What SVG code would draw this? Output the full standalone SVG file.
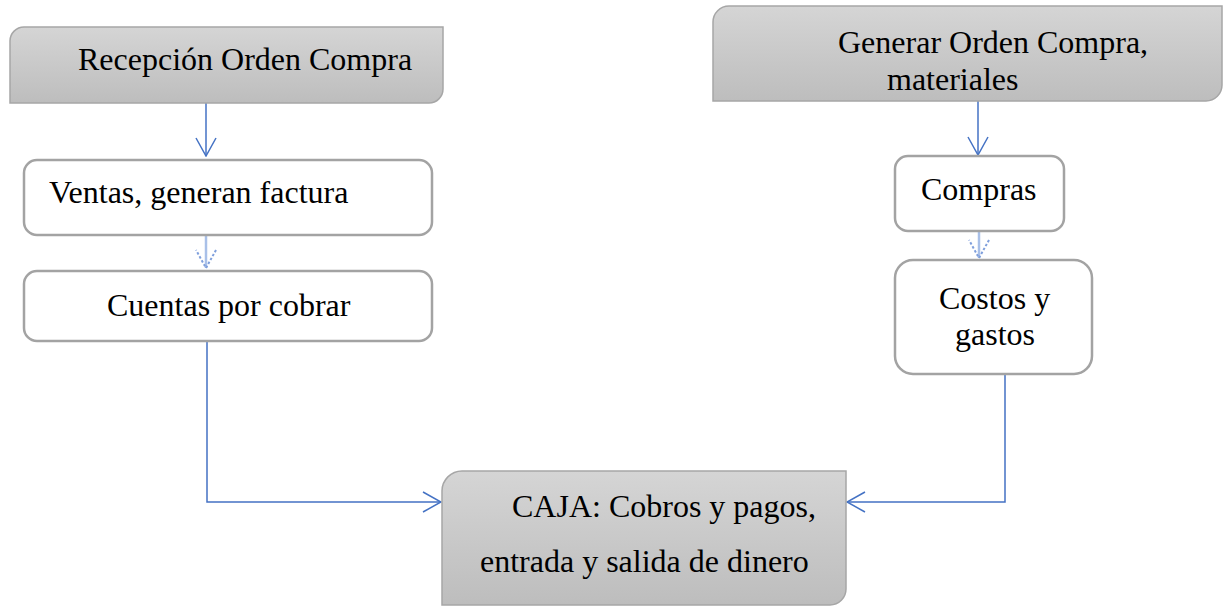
<svg xmlns="http://www.w3.org/2000/svg" width="1226" height="606" viewBox="0 0 1226 606">
<defs>
<linearGradient id="gray" x1="0" y1="0" x2="0" y2="1">
<stop offset="0" stop-color="#d5d5d5"/>
<stop offset="1" stop-color="#bdbdbd"/>
</linearGradient>
<marker id="arr" viewBox="0 0 20 22" refX="19" refY="11" markerWidth="20" markerHeight="22" markerUnits="userSpaceOnUse" orient="auto">
<path d="M1,1 L19,11 L1,21" fill="none" stroke="#4472c4" stroke-width="1.5"/>
</marker>
<marker id="arrf" viewBox="0 0 20 22" refX="19" refY="11" markerWidth="20" markerHeight="22" markerUnits="userSpaceOnUse" orient="auto">
<path d="M1,1 L19,11 L1,21" fill="none" stroke="#7f9fdc" stroke-width="2" stroke-dasharray="2.5,2"/>
</marker>
</defs>
<style>
.g{fill:url(#gray);stroke:#a6a6a6;stroke-width:1.5}
.w{fill:#ffffff;stroke:#a3a3a3;stroke-width:2.5}
.t{font-family:"Liberation Serif","Times New Roman",serif;font-size:32px;fill:#000}
.c{fill:none;stroke:#4472c4;stroke-width:1.5}
.cf{fill:none;stroke:#a9c0e8;stroke-width:2.5}
</style>
<rect width="1226" height="606" fill="#ffffff"/>
<g id="connectors">
<path class="c" d="M206,103 V156" marker-end="url(#arr)"/>
<path class="c" d="M978,101 V155" marker-end="url(#arr)"/>
<path class="cf" d="M206,235 V268" marker-end="url(#arrf)"/>
<path class="cf" d="M979,231 V258" marker-end="url(#arrf)"/>
<path class="c" d="M207,341 V502 H441" marker-end="url(#arr)"/>
<path class="c" d="M1005,374 V502 H847" marker-end="url(#arr)"/>
</g>
<g id="recepcion">
<path class="g" d="M24,27 H443 V89 A14,14 0 0 1 429,103 H10 V41 A14,14 0 0 1 24,27 Z"/>
<text class="t" x="78" y="70">Recepción Orden Compra</text>
</g>
<g id="generar">
<path class="g" d="M729,6 H1222 V85 A16,16 0 0 1 1206,101 H713 V22 A16,16 0 0 1 729,6 Z"/>
<text class="t" x="838" y="53">Generar Orden Compra,</text>
<text class="t" x="887" y="90">materiales</text>
</g>
<g id="ventas">
<rect class="w" x="24" y="160" width="408" height="75" rx="13"/>
<text class="t" x="49" y="203">Ventas, generan factura</text>
</g>
<g id="cuentas">
<rect class="w" x="24" y="271" width="408" height="70" rx="13"/>
<text class="t" x="107" y="316">Cuentas por cobrar</text>
</g>
<g id="compras">
<rect class="w" x="895" y="156" width="169" height="75" rx="13"/>
<text class="t" x="921" y="200">Compras</text>
</g>
<g id="costos">
<rect class="w" x="895" y="260" width="197" height="114" rx="18"/>
<text class="t" x="939" y="309">Costos y</text>
<text class="t" x="955" y="345">gastos</text>
</g>
<g id="caja">
<path class="g" d="M462,471 H846 V589 A16,16 0 0 1 830,605 H442 V491 A20,20 0 0 1 462,471 Z"/>
<text class="t" x="512" y="517">CAJA: Cobros y pagos,</text>
<text class="t" x="480" y="572">entrada y salida de dinero</text>
</g>
</svg>
